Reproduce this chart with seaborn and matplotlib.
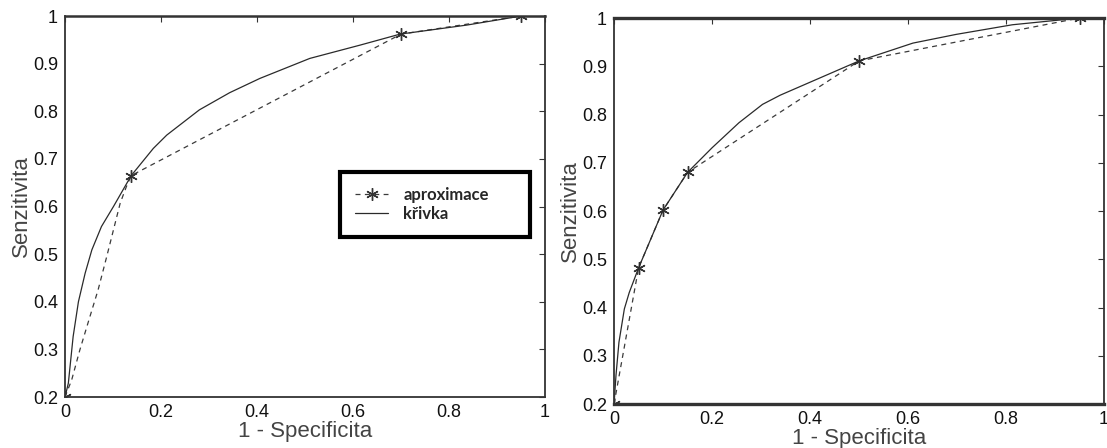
import numpy as np
import pandas as pd
import matplotlib
matplotlib.use("Agg")
import matplotlib.pyplot as plt
import seaborn as sns

# levý graf: aproximace (čárkovaně, hvězdičky jen v uzlech) a křivka
left_apx_x = [0.0, 0.014, 0.031, 0.052, 0.069, 0.087, 0.101, 0.115, 0.128, 0.138, 0.7, 0.95]
left_apx_y = [0.2, 0.236, 0.299, 0.369, 0.425, 0.495, 0.551, 0.607, 0.642, 0.665, 0.962, 1.0]
left_nodes = [0, 9, 10, 11]

left_curve_x = [0.0, 0.007, 0.017, 0.028, 0.042, 0.056, 0.076, 0.101, 0.138, 0.184, 0.212,
                0.28, 0.343, 0.406, 0.51, 0.615, 0.698, 0.837, 0.95]
left_curve_y = [0.2, 0.229, 0.327, 0.4, 0.46, 0.509, 0.558, 0.6, 0.665, 0.722, 0.75,
                0.803, 0.839, 0.869, 0.911, 0.939, 0.962, 0.981, 1.0]

# pravý graf
right_apx_x = [0.0, 0.05, 0.1, 0.15, 0.5, 0.95]
right_apx_y = [0.2, 0.482, 0.602, 0.68, 0.911, 1.0]

right_curve_x = [0.0, 0.004, 0.01, 0.021, 0.031, 0.05, 0.1, 0.15, 0.2, 0.255, 0.303, 0.339,
                 0.407, 0.5, 0.61, 0.698, 0.813, 0.95]
right_curve_y = [0.2, 0.26, 0.328, 0.397, 0.431, 0.482, 0.602, 0.68, 0.731, 0.783, 0.821, 0.84,
                 0.87, 0.911, 0.948, 0.966, 0.986, 1.0]

xticks = [0, 0.2, 0.4, 0.6, 0.8, 1]
xtick_labels = ["0", "0.2", "0.4", "0.6", "0.8", "1"]
yticks = [0.2, 0.3, 0.4, 0.5, 0.6, 0.7, 0.8, 0.9, 1]
ytick_labels = ["0.2", "0.3", "0.4", "0.5", "0.6", "0.7", "0.8", "0.9", "1"]

sns.set_style("white")
plt.rcParams['font.family'] = ['Liberation Sans', 'DejaVu Sans']

fig = plt.figure(figsize=(11.07, 4.48), dpi=100)
ax1 = fig.add_axes([0.0587, 0.1138, 0.4336, 0.8504])
ax2 = fig.add_axes([0.5547, 0.0982, 0.4426, 0.8616])

star = (6, 2, 0)


def draw(ax, ax_x, ax_y, nodes, cx, cy):
    apx = pd.DataFrame({"x": ax_x, "y": ax_y})
    crv = pd.DataFrame({"x": cx, "y": cy})
    sns.lineplot(data=apx, x="x", y="y", ax=ax, sort=False, color="#3a3a3a",
                 linestyle=(0, (4, 3.5)), linewidth=0.9, marker=star, markersize=9,
                 markeredgewidth=1.0, markeredgecolor="#333333", markevery=nodes,
                 label="aproximace")
    sns.lineplot(data=crv, x="x", y="y", ax=ax, sort=False, color="#2a2a2a",
                 linewidth=0.9, label="křivka")
    ax.set_xlim(0, 1)
    ax.set_ylim(0.2, 1)
    ax.set_xticks(xticks)
    ax.set_xticklabels(xtick_labels)
    ax.set_yticks(yticks)
    ax.set_yticklabels(ytick_labels)
    ax.tick_params(direction="in", top=True, right=True, length=4, width=0.8,
                   labelsize=13, colors="#333333", labelcolor="#111111")
    ax.tick_params(axis="x", pad=5)
    ax.tick_params(axis="y", pad=5)
    ax.set_xlabel("1 - Specificita", fontsize=16, labelpad=0, color="#444444")
    ax.set_ylabel("Senzitivita", fontsize=16, labelpad=1, color="#444444")
    for sp in ax.spines.values():
        sp.set_color("#333333")
        sp.set_linewidth(1.3)


draw(ax1, left_apx_x, left_apx_y, left_nodes, left_curve_x, left_curve_y)
draw(ax2, right_apx_x, right_apx_y, list(range(len(right_apx_x))), right_curve_x, right_curve_y)
ax2.spines["top"].set_linewidth(2.4)
ax2.spines["bottom"].set_linewidth(2.4)
ax1.spines["top"].set_linewidth(1.8)

leg = ax1.legend(loc="center", bbox_to_anchor=(0.573, 0.407, 0.396, 0.197), mode="expand",
                 frameon=True, fancybox=False, handlelength=2.0, handletextpad=0.9,
                 prop={"family": "Lato", "weight": "bold", "size": 12},
                 labelspacing=0.15, borderpad=0.9, borderaxespad=0)
leg.get_frame().set_edgecolor("black")
leg.get_frame().set_linewidth(3)
leg.get_frame().set_alpha(1)
ax2.get_legend().remove()

fig.savefig("out.png", dpi=100)
